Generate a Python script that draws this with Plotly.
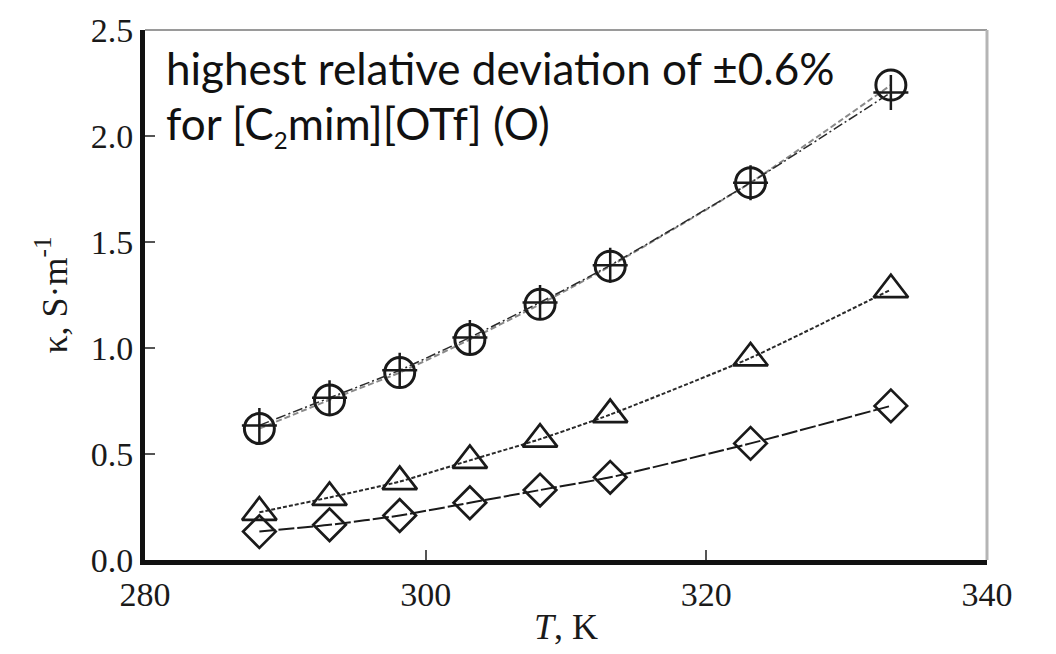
import plotly.graph_objects as go

T = [288.15, 293.15, 298.15, 303.15, 308.15, 313.15, 323.15, 333.15]
kappa_circle = [0.62, 0.755, 0.884, 1.04, 1.206, 1.386, 1.78, 2.24]
kappa_plus = [0.635, 0.765, 0.895, 1.05, 1.215, 1.39, 1.78, 2.205]
kappa_triangle = [0.225, 0.295, 0.37, 0.47, 0.57, 0.686, 0.953, 1.275]
kappa_diamond = [0.134, 0.166, 0.21, 0.27, 0.33, 0.39, 0.55, 0.727]

x_ticks = [280, 300, 320, 340]
y_ticks = [0.0, 0.5, 1.0, 1.5, 2.0, 2.5]
y_ticklabels = ["0.0", "0.5", "1.0", "1.5", "2.0", "2.5"]

fig = go.Figure()

fig.add_trace(go.Scatter(
    x=T, y=kappa_circle, mode="lines+markers",
    line=dict(color="#8a8a8a", width=2, dash="6px,3px", shape="spline", smoothing=0.5),
    marker=dict(symbol="circle-open", size=30, color="#1a1a1a", line=dict(width=3, color="#1a1a1a")),
    showlegend=False))
fig.add_trace(go.Scatter(
    x=T, y=kappa_plus, mode="lines+markers",
    line=dict(color="#2a2a2a", width=1.5, dash="10px,3px,2px,3px", shape="spline", smoothing=0.5),
    marker=dict(symbol="cross-thin-open", size=25, color="#1a1a1a", line=dict(width=2.5, color="#1a1a1a")),
    showlegend=False))
fig.add_trace(go.Scatter(
    x=T, y=kappa_triangle, mode="lines+markers",
    line=dict(color="#2a2a2a", width=2, dash="4px,2px", shape="spline", smoothing=0.5),
    marker=dict(symbol="triangle-up-open", size=30, color="#1a1a1a", line=dict(width=2.7, color="#1a1a1a")),
    showlegend=False))
fig.add_trace(go.Scatter(
    x=T, y=kappa_diamond, mode="lines+markers",
    line=dict(color="#1a1a1a", width=2, dash="16px,3px", shape="spline", smoothing=0.5),
    marker=dict(symbol="diamond-open", size=25, color="#1a1a1a", line=dict(width=2.7, color="#1a1a1a")),
    showlegend=False))

serif = "Liberation Serif, Times New Roman, serif"
sans = "Lato, Noto Sans, sans-serif"

fig.update_layout(
    width=1056, height=654,
    margin=dict(l=145, r=69, t=24, b=87),
    paper_bgcolor="white", plot_bgcolor="white",
    font=dict(family=serif, size=34, color="#1a1a1a"),
    xaxis=dict(
        range=[280, 340], tickvals=x_ticks, ticktext=[str(v) for v in x_ticks],
        ticks="inside", ticklen=10, tickwidth=2, tickcolor="#555555",
        showline=True, linecolor="#111111", linewidth=5,
        showgrid=False, zeroline=False,
        tickfont=dict(family=serif, size=34, color="#1a1a1a"),
        title=dict(text="<i>T</i>, K", font=dict(family=serif, size=36, color="#1a1a1a"), standoff=4),
    ),
    yaxis=dict(
        range=[0, 2.5], tickvals=y_ticks, ticktext=y_ticklabels,
        ticks="inside", ticklen=10, tickwidth=2, tickcolor="#555555",
        showline=True, linecolor="#111111", linewidth=5,
        showgrid=False, zeroline=False,
        tickfont=dict(family=serif, size=34, color="#1a1a1a"),
        title=dict(text="κ, S·m<sup>-1</sup>", font=dict(family=serif, size=36, color="#1a1a1a"), standoff=14),
    ),
    shapes=[
        dict(type="line", xref="paper", yref="paper", x0=0, x1=1, y0=1, y1=1,
             line=dict(color="#9a9a9a", width=2), layer="below"),
        dict(type="line", xref="paper", yref="paper", x0=1, x1=1, y0=0, y1=1,
             line=dict(color="#b5b5b5", width=3), layer="below"),
    ],
    annotations=[
        dict(text="highest relative deviation of ±0.6%", xref="paper", yref="paper",
             x=0.022, y=0.982, xanchor="left", yanchor="top", showarrow=False,
             font=dict(family=sans, size=44, color="#111111")),
        dict(text="for [C<sub><span style='font-size:24px'>2</span></sub>mim][OTf] (O)",
             xref="paper", yref="paper",
             x=0.022, y=0.877, xanchor="left", yanchor="top", showarrow=False,
             font=dict(family=sans, size=44, color="#111111")),
    ],
)

fig.write_html("out.html")
